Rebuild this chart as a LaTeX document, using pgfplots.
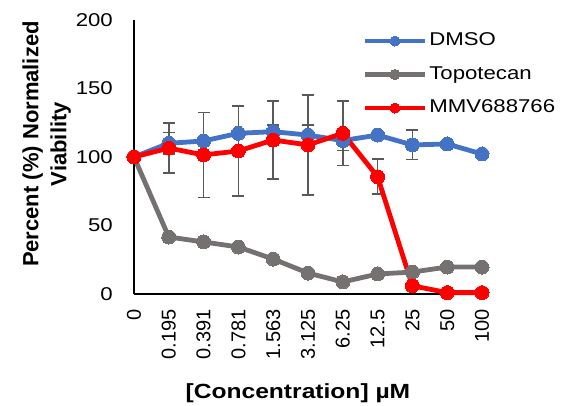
\documentclass[border=0pt]{standalone}
\usepackage{fontspec}
\setmainfont{Liberation Sans}
\newfontfamily\wide{Liberation Sans}[FakeStretch=1.2]
\usepackage{pgfplots}
\pgfplotsset{compat=1.18}
\definecolor{cblue}{HTML}{4472C4}
\definecolor{cgray}{HTML}{767171}
\definecolor{cred}{HTML}{FF0000}
\definecolor{cerr}{HTML}{595959}
\begin{document}
\begin{tikzpicture}
\path[use as bounding box] (-134bp,-112bp) rectangle (444bp,294bp);
\begin{axis}[
  at={(0,0)}, anchor=south west, scale only axis,
  width=348bp, height=274bp,
  xmin=0, xmax=10, ymin=0, ymax=200, clip=false,
  axis x line*=bottom, axis y line*=left,
  axis line style={-, line width=1.3bp, black},
  major tick length=0pt,
  xtick={0,1,2,3,4,5,6,7,8,9,10},
  xticklabels={0,0.195,0.391,0.781,1.563,3.125,6.25,12.5,25,50,100},
  ytick={0,50,100,150,200},
  yticklabels={0,50,100,150,200},
  xticklabel style={rotate=90, anchor=east, font=\fontsize{20bp}{24bp}\selectfont, inner sep=0pt},
  xticklabel shift=15bp,
  yticklabel style={anchor=east, font=\wide\fontsize{18.5bp}{21bp}\selectfont, inner sep=0pt},
  yticklabel shift=21bp,
  xlabel={[Concentration] µM},
  xlabel style={at={(rel axis cs:0.471,-0.383)}, anchor=base, font=\wide\bfseries\fontsize{20.5bp}{24bp}\selectfont, inner sep=0pt},
  ylabel={Percent (\%) Normalized\\Viability},
  ylabel style={at={(rel axis cs:-0.251,0.547)}, anchor=center, align=center, font=\bfseries\fontsize{22bp}{28bp}\selectfont, inner sep=0pt},
  legend cell align=left,
  legend style={draw=none, fill=none, at={(rel axis cs:0.656,0.955)}, anchor=north west,
    inner sep=0pt, row sep=16.5bp,
    font=\wide\fontsize{18.5bp}{21bp}\selectfont,
    nodes={inner sep=0pt, text height=13bp, text depth=4bp},
    /tikz/every odd column/.append style={column sep=2bp}},
  legend image code/.code={\draw[mark repeat=2,mark phase=2,#1] plot coordinates {(0bp,0bp) (30bp,0bp) (60bp,0bp)};},
  every legend image post/.style={mark size=5bp},
]
% error bars (drawn beneath the series)
\addplot[forget plot, only marks, mark=none,
  error bars/.cd, y dir=both, y explicit,
  error bar style={draw=cerr, line width=1.7bp},
  error mark options={draw=cerr, rotate=90, mark size=6bp, line width=1.7bp}]
coordinates {
  (1,110) +- (0,7.9)
  (4,118.5) +- (0,5)
  (5,116) +- (0,7.3)
  (6,112) +- (0,7.3)
  (8,108.8) +- (0,10.7)
};
\addplot[forget plot, only marks, mark=none,
  error bars/.cd, y dir=both, y explicit,
  error bar style={draw=cerr, line width=1.7bp},
  error mark options={draw=cerr, rotate=90, mark size=6bp, line width=1.7bp}]
coordinates {
  (1,106.5) +- (0,18.2)
  (2,101.5) +- (0,31)
  (3,104.4) +- (0,33)
  (4,112.4) +- (0,28.5)
  (5,108.8) +- (0,36.5)
  (6,117.3) +- (0,23.4)
  (7,85.6) +- (0,12.8)
};
% DMSO
\addplot[cblue, line width=4.8bp, mark=*, mark size=7bp, mark options={cblue, fill=cblue, line width=0pt}]
coordinates {(0,100) (1,110) (2,111.7) (3,117.3) (4,118.5) (5,116) (6,112) (7,116) (8,108.8) (9,109.5) (10,102.2)};
\addlegendentry{DMSO}
% Topotecan
\addplot[cgray, line width=4.8bp, mark=*, mark size=7bp, mark options={cgray, fill=cgray, line width=0pt}]
coordinates {(0,100) (1,41.6) (2,38) (3,34.3) (4,25.5) (5,15.3) (6,8.8) (7,14.6) (8,16) (9,19.7) (10,19.7)};
\addlegendentry{Topotecan}
% MMV688766
\addplot[cred, line width=4.8bp, mark=*, mark size=7bp, mark options={cred, fill=cred, line width=0pt}]
coordinates {(0,100) (1,106.5) (2,101.5) (3,104.4) (4,112.4) (5,108.8) (6,117.3) (7,85.6) (8,6) (9,1) (10,1)};
\addlegendentry{MMV688766}
\end{axis}
\end{tikzpicture}
\end{document}
